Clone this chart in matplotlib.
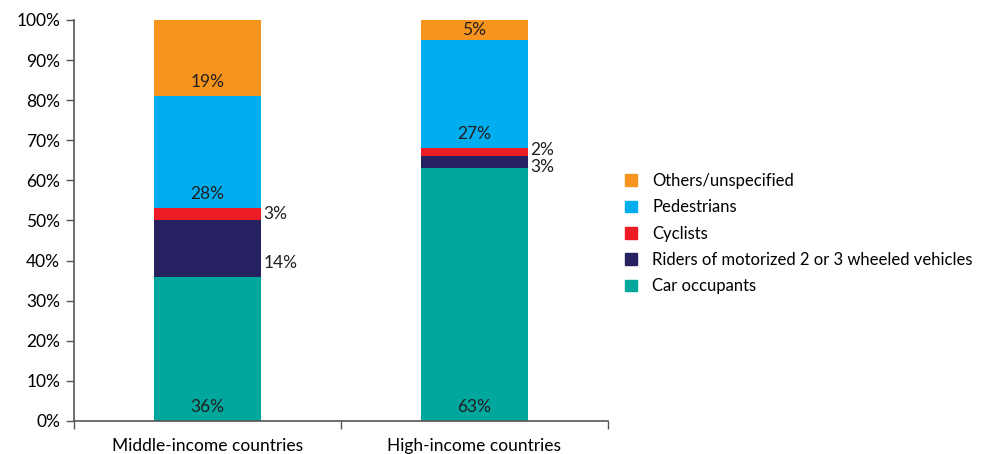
import matplotlib
matplotlib.use('Agg')
import matplotlib.pyplot as plt
from matplotlib.patches import Patch
import numpy as np

plt.rcParams['font.family'] = ['Lato', 'DejaVu Sans']

categories = ['Middle-income countries', 'High-income countries']
series = ['Car occupants', 'Riders of motorized 2 or 3 wheeled vehicles',
          'Cyclists', 'Pedestrians', 'Others/unspecified']
car = [36, 63]
riders = [14, 3]
cyclists = [3, 2]
pedestrians = [28, 27]
others = [19, 5]
colors = ['#00A79D', '#262262', '#ED1C24', '#00AEEF', '#F7941D']

values = [car, riders, cyclists, pedestrians, others]
# which segments get their label outside the bar (right side), with y nudge
outside = {(1, 0): -3.5, (2, 0): 0, (1, 1): -1.2, (2, 1): 0.6}
FS = 12.5

fig = plt.figure(figsize=(9.91, 4.54), dpi=100)
ax = fig.add_axes([0.0747, 0.0727, 0.5388, 0.8833])

x = np.arange(len(categories))
w = 0.4
bottom = np.zeros(len(categories))
for i, vals in enumerate(values):
    ax.bar(x, vals, w, bottom=bottom, color=colors[i], label=series[i])
    for j, v in enumerate(vals):
        if (i, j) in outside:
            ax.text(x[j] + w / 2 + 0.01, bottom[j] + v / 2 + outside[(i, j)],
                    f'{v}%', ha='left', va='center', fontsize=FS, color='#231F20')
        else:
            y = bottom[j] + min(3.5, v / 2)
            ax.text(x[j], y, f'{v}%', ha='center', va='center',
                    fontsize=FS, color='#231F20')
    bottom += np.array(vals)

ax.set_xlim(-0.5, 1.5)
ax.set_ylim(0, 100)
ax.set_yticks(np.arange(0, 101, 10))
ax.set_yticklabels([f'{t}%' for t in range(0, 101, 10)])
ax.set_xticks(x)
ax.set_xticklabels(categories)
ax.set_xticks([-0.5, 0.5, 1.5], minor=True)
ax.tick_params(axis='x', which='major', length=0, labelsize=FS, pad=12)
ax.tick_params(axis='x', which='minor', length=6, width=1, direction='out', color='#555555')
ax.tick_params(axis='y', length=6, width=1, color='#555555', labelsize=FS, pad=4)
for s in ['top', 'right']:
    ax.spines[s].set_visible(False)
for s in ['left', 'bottom']:
    ax.spines[s].set_color('#555555')
    ax.spines[s].set_linewidth(1.2)

handles = [Patch(color=colors[i], label=series[i]) for i in range(len(series))][::-1]
fig.legend(handles=handles, loc='center left', bbox_to_anchor=(0.616, 0.485),
           frameon=False, fontsize=12, handlelength=0.7, handleheight=0.7,
           handletextpad=0.9, labelspacing=0.62)

fig.savefig('out.png', dpi=100)
